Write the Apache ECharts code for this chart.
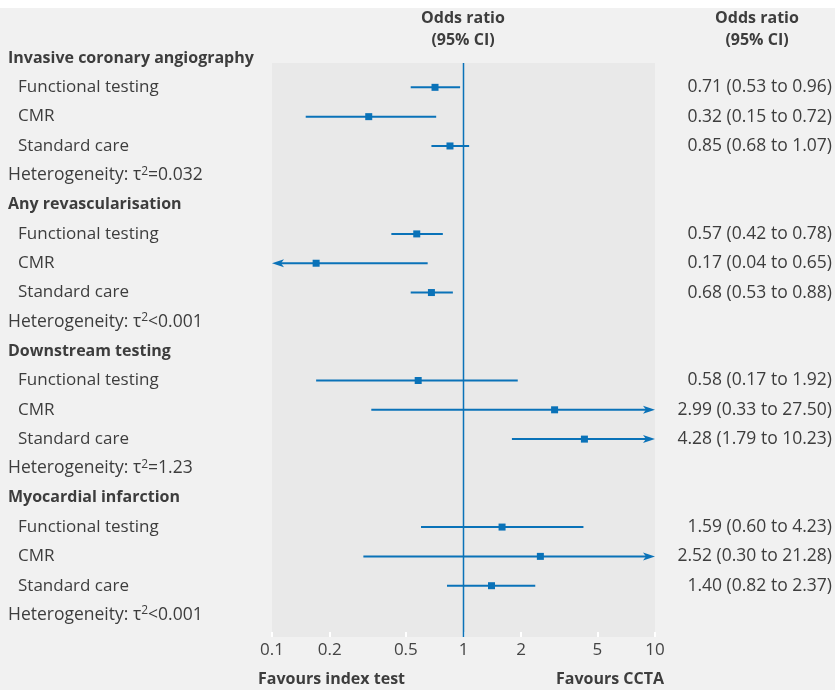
<!DOCTYPE html>
<html><head><meta charset="utf-8">
<script src="https://cdn.jsdelivr.net/npm/echarts@6/dist/echarts.min.js"></script>
<style>html,body{margin:0;padding:0;background:#fff}#c{width:835px;height:690px}</style>
</head><body><div id="c"></div>
<script>
const groups = ['Invasive coronary angiography', 'Any revascularisation', 'Downstream testing', 'Myocardial infarction'];
const comparators = ['Functional testing', 'CMR', 'Standard care'];
const tau2Text = ['=0.032', '<0.001', '=1.23', '<0.001'];
const orEst  = [0.71, 0.32, 0.85, 0.57, 0.17, 0.68, 0.58, 2.99, 4.28, 1.59, 2.52, 1.40];
const ciLow  = [0.53, 0.15, 0.68, 0.42, 0.04, 0.53, 0.17, 0.33, 1.79, 0.60, 0.30, 0.82];
const ciHigh = [0.96, 0.72, 1.07, 0.78, 0.65, 0.88, 1.92, 27.50, 10.23, 4.23, 21.28, 2.37];
const xTicks = [0.1, 0.2, 0.5, 1, 2, 5, 10];

const FONT = '"Open Sans", "Noto Sans", sans-serif';
const TXT = '#3d3d3d';
const BLUE = '#0a72b8';
const XMIN = 0.1, XMAX = 10;

// build rows
const estRows = [];   // [est, lo, hi, row]
const leftRows = [];  // [row, kind, groupIdx, compIdx]
groups.forEach((g, gi) => {
  leftRows.push([gi * 5, 0, gi, -1]);
  comparators.forEach((c, ci) => {
    const k = gi * 3 + ci;
    estRows.push([orEst[k], ciLow[k], ciHigh[k], gi * 5 + 1 + ci]);
    leftRows.push([gi * 5 + 1 + ci, 1, gi, ci]);
  });
  leftRows.push([gi * 5 + 4, 2, gi, -1]);
});
const fmt = v => v.toFixed(2);

const chart = echarts.init(document.getElementById('c'), null, {renderer: 'canvas'});
chart.setOption({
  backgroundColor: '#f1f1f1',
  animation: false,
  textStyle: {fontFamily: FONT},
  grid: {left: 272, right: 180, top: 63, bottom: 53, show: true, backgroundColor: '#e9e9e9', borderWidth: 0},
  xAxis: {
    type: 'log', logBase: 10, min: XMIN, max: XMAX,
    axisLine: {show: false}, splitLine: {show: false},
    axisTick: {show: true, inside: true, length: 5, customValues: xTicks, lineStyle: {color: '#ffffff', width: 2}},
    axisLabel: {customValues: xTicks, formatter: v => String(+(+v).toPrecision(3)), color: '#444', fontSize: 17, fontFamily: FONT, margin: 5}
  },
  yAxis: {type: 'value', inverse: true, min: 0.17, max: 19.75, show: false},
  graphic: [
    {type: 'rect', shape: {x: 0, y: 0, width: 835, height: 8}, style: {fill: '#ffffff'}},
    {type: 'text', x: 463, y: 18, style: {text: 'Odds ratio', font: 'bold 16px ' + FONT, fill: TXT, align: 'center', verticalAlign: 'middle'}},
    {type: 'text', x: 463, y: 40, style: {text: '(95% CI)', font: 'bold 16px ' + FONT, fill: TXT, align: 'center', verticalAlign: 'middle'}},
    {type: 'text', x: 757, y: 18, style: {text: 'Odds ratio', font: 'bold 16px ' + FONT, fill: TXT, align: 'center', verticalAlign: 'middle'}},
    {type: 'text', x: 757, y: 40, style: {text: '(95% CI)', font: 'bold 16px ' + FONT, fill: TXT, align: 'center', verticalAlign: 'middle'}},
    {type: 'text', x: 258, y: 679, style: {text: 'Favours index test', font: 'bold 16px ' + FONT, fill: TXT, align: 'left', verticalAlign: 'middle'}},
    {type: 'text', x: 664, y: 679, style: {text: 'Favours CCTA', font: 'bold 16px ' + FONT, fill: TXT, align: 'right', verticalAlign: 'middle'}}
  ],
  series: [
    {
      type: 'custom', name: 'ref', clip: false, z: 2,
      data: [[1]],
      renderItem: (params, api) => {
        const a = api.coord([1, 0.17]), b = api.coord([1, 19.75]);
        return {type: 'line', shape: {x1: a[0], y1: a[1], x2: b[0], y2: b[1]}, style: {stroke: BLUE, lineWidth: 1.5}};
      }
    },
    {
      type: 'custom', name: 'OR', clip: false, z: 3,
      data: estRows,
      renderItem: (params, api) => {
        const est = api.value(0), lo = api.value(1), hi = api.value(2), row = api.value(3);
        const p = api.coord([est, row]);
        const l = api.coord([Math.max(lo, XMIN), row]);
        const h = api.coord([Math.min(hi, XMAX), row]);
        const y = p[1];
        const kids = [];
        kids.push({type: 'line', shape: {x1: l[0] + (lo < XMIN ? 6 : 0), y1: y, x2: h[0] - (hi > XMAX ? 6 : 0), y2: y}, style: {stroke: BLUE, lineWidth: 2}});
        if (lo < XMIN) {
          kids.push({type: 'polygon', shape: {points: [[l[0], y], [l[0] + 12, y - 4], [l[0] + 9, y], [l[0] + 12, y + 4]]}, style: {fill: BLUE}});
        }
        if (hi > XMAX) {
          kids.push({type: 'polygon', shape: {points: [[h[0], y], [h[0] - 12, y - 4], [h[0] - 9, y], [h[0] - 12, y + 4]]}, style: {fill: BLUE}});
        }
        kids.push({type: 'rect', shape: {x: p[0] - 3.5, y: y - 3.5, width: 7, height: 7}, style: {fill: BLUE}});
        return {type: 'group', children: kids};
      }
    },
    {
      type: 'custom', name: 'labels', clip: false, z: 4,
      data: leftRows,
      renderItem: (params, api) => {
        const r = leftRows[params.dataIndex];
        const y = api.coord([1, r[0]])[1];
        const kids = [];
        if (r[1] === 0) {
          kids.push({type: 'text', x: 8, y: y, style: {text: groups[r[2]], font: 'bold 16px ' + FONT, fill: TXT, verticalAlign: 'middle'}});
        } else if (r[1] === 1) {
          kids.push({type: 'text', x: 18, y: y, style: {text: comparators[r[3]], font: '17px ' + FONT, fill: TXT, verticalAlign: 'middle'}});
          const k = r[2] * 3 + r[3];
          kids.push({type: 'text', x: 832, y: y, style: {text: fmt(orEst[k]) + ' (' + fmt(ciLow[k]) + ' to ' + fmt(ciHigh[k]) + ')', font: '17.5px ' + FONT, fill: TXT, align: 'right', verticalAlign: 'middle'}});
        } else {
          kids.push({type: 'text', x: 8, y: y, style: {
            text: '{a|Heterogeneity: τ}{s|2}{a|' + tau2Text[r[2]] + '}',
            verticalAlign: 'middle',
            rich: {
              a: {fontSize: 17.5, fontFamily: FONT, color: TXT, fill: TXT},
              s: {fontSize: 12, fontFamily: FONT, color: TXT, fill: TXT, verticalAlign: 'top', padding: [0, 0, 8, 0]}
            }
          }});
        }
        return {type: 'group', children: kids};
      }
    }
  ]
});
</script></body></html>
